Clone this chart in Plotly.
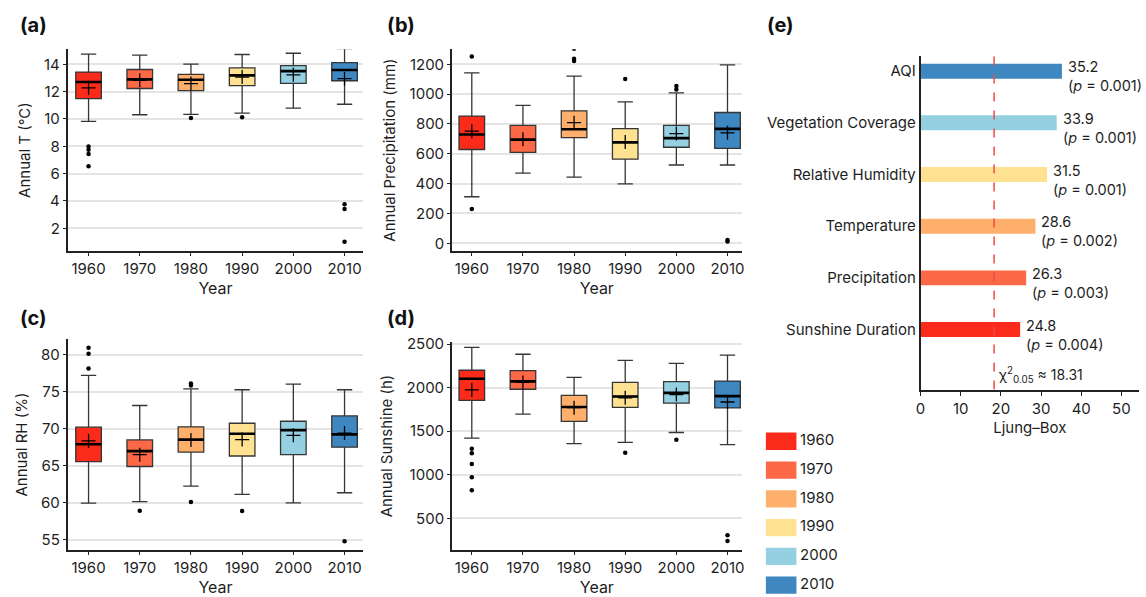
import plotly.graph_objects as go

# ---------------- data ----------------
years = ["1960", "1970", "1980", "1990", "2000", "2010"]
colors = ["#fb2b1b", "#fd6846", "#fdaf6b", "#fee291", "#94d0e2", "#3e87c0"]

# (a) Annual temperature (°C)
t_low = [9.83, 10.31, 10.34, 10.43, 10.79, 11.08]
t_q1 = [11.49, 12.23, 12.08, 12.44, 12.61, 12.80]
t_med = [12.71, 12.90, 12.87, 13.19, 13.50, 13.59]
t_q3 = [13.43, 13.62, 13.26, 13.74, 13.90, 14.12]
t_high = [14.74, 14.67, 14.02, 14.72, 14.81, 15.15]
t_mean = [12.28, 12.83, 12.59, 13.07, 13.23, 12.95]
t_out = [[7.99, 7.75, 7.44, 6.55], [], [10.07], [10.12], [], [3.77, 3.41, 1.02]]

# (b) Annual precipitation (mm)
p_low = [312, 470, 444, 398, 525, 525]
p_q1 = [629, 609, 708, 565, 644, 637]
p_med = [730, 695, 765, 677, 705, 767]
p_q3 = [853, 791, 888, 769, 791, 877]
p_high = [1143, 925, 1121, 949, 1009, 1196]
p_mean = [752, 697, 809, 680, 736, 741]
p_out = [[1253, 229], [], [1305, 1237, 1222], [1101], [1055, 1031], [22, 11]]

# (c) Annual relative humidity (%)
r_low = [59.96, 60.18, 62.26, 61.15, 60.00, 61.37]
r_q1 = [65.58, 64.91, 66.86, 66.33, 66.50, 67.52]
r_med = [67.92, 66.99, 68.54, 69.34, 69.82, 69.25]
r_q3 = [70.22, 68.50, 70.27, 70.75, 71.02, 71.73]
r_high = [77.21, 73.14, 75.40, 75.27, 76.02, 75.27]
r_mean = [68.36, 66.50, 68.50, 68.54, 69.12, 69.42]
r_out = [[80.93, 80.13, 78.14], [58.94], [76.10, 75.84, 60.13], [58.90], [], [54.82]]

# (d) Annual sunshine (h)
s_low = [1421, 1695, 1357, 1372, 1485, 1346]
s_q1 = [1853, 1981, 1613, 1774, 1823, 1767]
s_med = [2101, 2071, 1778, 1898, 1940, 1902]
s_q3 = [2199, 2195, 1910, 2060, 2068, 2075]
s_high = [2462, 2383, 2117, 2312, 2278, 2372]
s_mean = [1974, 2060, 1770, 1883, 1921, 1835]
s_out = [[1297, 1248, 1124, 970, 823], [], [], [1252], [1402], [305, 241]]

# (e) Ljung–Box statistics (bottom to top)
factors = ["Sunshine Duration", "Precipitation", "Temperature",
           "Relative Humidity", "Vegetation Coverage", "AQI"]
lb_values = [24.8, 26.3, 28.6, 31.5, 33.9, 35.2]
lb_p = ["0.004", "0.003", "0.002", "0.001", "0.001", "0.001"]
lb_colors = ["#fb2b1b", "#fd6846", "#fdaf6b", "#fee291", "#94d0e2", "#3e87c0"]
chi2_crit = 18.31

# ---------------- layout helpers ----------------
W, H = 1146, 597
FONT = "Inter, Roboto, Arial, sans-serif"
TXT = "#1e1e1e"
AX = "#222222"


def dxp(a, b):
    return [a / W, b / W]


def dyp(top, bottom):
    return [1 - bottom / H, 1 - top / H]


fig = go.Figure()

panels = [
    ("x", "y", t_low, t_q1, t_med, t_q3, t_high, t_mean, t_out),
    ("x2", "y2", p_low, p_q1, p_med, p_q3, p_high, p_mean, p_out),
    ("x3", "y3", r_low, r_q1, r_med, r_q3, r_high, r_mean, r_out),
    ("x4", "y4", s_low, s_q1, s_med, s_q3, s_high, s_mean, s_out),
]

BW = 0.5
for xa, ya, lo, q1, med, q3, hi, mean, outs in panels:
    for i, yr in enumerate(years):
        fig.add_trace(go.Box(
            x=[i], q1=[q1[i]], median=[med[i]], q3=[q3[i]],
            lowerfence=[lo[i]], upperfence=[hi[i]],
            width=BW, whiskerwidth=0.6,
            fillcolor=colors[i], line=dict(color="#353535", width=1.3),
            boxpoints=False, showlegend=False, hoverinfo="skip",
            xaxis=xa, yaxis=ya,
        ))
        # thick median line
        fig.add_trace(go.Scatter(
            x=[i - BW / 2, i + BW / 2], y=[med[i], med[i]], mode="lines",
            line=dict(color="#000000", width=2.6), showlegend=False,
            hoverinfo="skip", xaxis=xa, yaxis=ya,
        ))
        if outs[i]:
            fig.add_trace(go.Scatter(
                x=[i] * len(outs[i]), y=outs[i], mode="markers",
                marker=dict(color="#000000", size=4.5), showlegend=False,
                hoverinfo="skip", xaxis=xa, yaxis=ya,
            ))
    # mean markers
    fig.add_trace(go.Scatter(
        x=list(range(len(years))), y=mean, mode="markers",
        marker=dict(symbol="cross-thin", size=10,
                    line=dict(color="#000000", width=1.3)),
        showlegend=False, hoverinfo="skip", xaxis=xa, yaxis=ya,
    ))

# (e) bars
fig.add_trace(go.Bar(
    x=lb_values, y=list(range(len(factors))), orientation="h",
    marker=dict(color=lb_colors, line=dict(width=0)), width=0.29,
    showlegend=False, hoverinfo="skip", xaxis="x5", yaxis="y5",
))

# legend panel drawn as bars
fig.add_trace(go.Bar(
    x=[1] * len(years), y=list(range(len(years))), orientation="h",
    marker=dict(color=colors, line=dict(width=0)), width=0.6,
    showlegend=False, hoverinfo="skip", xaxis="x6", yaxis="y6",
))
fig.add_trace(go.Scatter(
    x=[1.12] * len(years), y=list(range(len(years))), mode="text",
    text=years, textposition="middle right",
    textfont=dict(family=FONT, size=15, color=TXT),
    showlegend=False, hoverinfo="skip", xaxis="x6", yaxis="y6",
))

# ---------------- axes ----------------
def box_xaxis(domain, anchor, rng):
    return dict(
        domain=domain, anchor=anchor, range=rng,
        tickvals=list(range(len(years))), ticktext=years,
        showline=True, linecolor=AX, linewidth=1.5,
        ticks="outside", ticklen=3, tickcolor=AX, tickwidth=1.2,
        showgrid=False, zeroline=False,
        tickfont=dict(family=FONT, size=15, color=TXT),
        title=dict(text="Year", font=dict(family=FONT, size=16, color=TXT), standoff=6),
    )


def box_yaxis(domain, anchor, rng, dtick, title):
    return dict(
        domain=domain, anchor=anchor, range=rng, dtick=dtick,
        showline=True, linecolor=AX, linewidth=1.5,
        ticks="outside", ticklen=3, tickcolor=AX, tickwidth=1.2,
        showgrid=True, gridcolor="#e4e4e4", gridwidth=1.5, zeroline=False,
        tickfont=dict(family=FONT, size=15, color=TXT),
        title=dict(text=title, font=dict(family=FONT, size=15, color=TXT), standoff=10),
    )


layout = dict(
    width=W, height=H, margin=dict(l=0, r=0, t=0, b=0),
    paper_bgcolor="white", plot_bgcolor="white",
    font=dict(family=FONT, color=TXT),
    barmode="overlay",
    xaxis=box_xaxis(dxp(63, 361), "y", [-0.41, 5.37]),
    yaxis=box_yaxis(dyp(42, 247), "x", [0.35, 15.1], 2, "Annual T (°C)"),
    xaxis2=box_xaxis(dxp(450, 742), "y2", [-0.39, 5.28]),
    yaxis2=box_yaxis(dyp(42, 247), "x2", [-51, 1301], 200, "Annual Precipitation (mm)"),
    xaxis3=box_xaxis(dxp(63, 361), "y3", [-0.41, 5.37]),
    yaxis3=box_yaxis(dyp(337, 551), "x3", [53.67, 82.07], 5, "Annual RH (%)"),
    xaxis4=box_xaxis(dxp(450, 742), "y4", [-0.39, 5.28]),
    yaxis4=box_yaxis(dyp(340, 551), "x4", [139, 2520], 500, "Annual Sunshine (h)"),
    xaxis5=dict(
        domain=dxp(922, 1142), anchor="y5", range=[0, 54.4], dtick=10,
        showline=True, linecolor=AX, linewidth=1.5,
        ticks="outside", ticklen=5, tickcolor=AX, tickwidth=1.2,
        showgrid=False, zeroline=False,
        tickfont=dict(family=FONT, size=15, color=TXT),
        title=dict(text="Ljung–Box", font=dict(family=FONT, size=15, color=TXT), standoff=4),
    ),
    yaxis5=dict(
        domain=dyp(49, 388), anchor="x5", range=[-1.16, 5.29],
        tickvals=list(range(len(factors))), ticktext=factors,
        showline=True, linecolor=AX, linewidth=1.5, ticks="",
        showgrid=False, zeroline=False, ticklabelstandoff=0,
        tickfont=dict(family=FONT, size=15, color=TXT),
    ),
    xaxis6=dict(domain=dxp(766, 859), anchor="y6", range=[0, 3], visible=False),
    yaxis6=dict(domain=dyp(426, 597), anchor="x6", range=[5.34, -0.5], visible=False),
)
fig.update_layout(**layout)

# chi-square critical line
fig.add_shape(type="line", xref="x5", yref="y5 domain",
              x0=chi2_crit, x1=chi2_crit, y0=0, y1=1,
              line=dict(color="#ee4a44", width=1.5, dash="dash"))
fig.add_annotation(xref="x5", yref="y5 domain", x=chi2_crit, y=0.045,
                   xanchor="left", yanchor="middle", xshift=3, showarrow=False,
                   text="χ<sup>2</sup><sub>0.05</sub> ≈ " + str(chi2_crit),
                   font=dict(family=FONT, size=14, color=TXT))

# bar value labels
for i, (v, p) in enumerate(zip(lb_values, lb_p)):
    fig.add_annotation(xref="x5", yref="y5", x=v, y=i, xanchor="left",
                       yanchor="middle", xshift=4, yshift=-5, align="left",
                       showarrow=False,
                       text=f"{v}<br>(<i>p</i> = {p})",
                       font=dict(family=FONT, size=14.5, color=TXT))

# panel labels
for lbl, px, py in [("(a)", 13, 17), ("(b)", 383, 17), ("(c)", 13, 315),
                    ("(d)", 383, 315), ("(e)", 765, 17)]:
    fig.add_annotation(xref="paper", yref="paper", x=px / W, y=1 - py / H,
                       xanchor="left", yanchor="middle", showarrow=False,
                       text=f"<b>{lbl}</b>",
                       font=dict(family=FONT, size=20, color="#111111"))

fig.write_html("out.html")
